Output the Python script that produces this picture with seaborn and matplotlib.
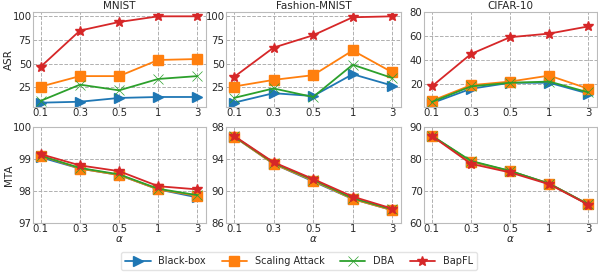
import numpy as np
import pandas as pd
import matplotlib
matplotlib.use("Agg")
import matplotlib.pyplot as plt
import seaborn as sns

alphas = ["0.1", "0.3", "0.5", "1", "3"]
datasets = ["MNIST", "Fashion-MNIST", "CIFAR-10"]
methods = ["Black-box", "Scaling Attack", "DBA", "BapFL"]

asr_mnist_blackbox = [9, 10, 14, 15, 15]
asr_mnist_scaling = [26, 37, 37, 54, 55]
asr_mnist_dba = [11, 28, 22, 34, 37]
asr_mnist_bapfl = [47, 85, 94, 100, 100]

asr_fmnist_blackbox = [9, 19, 16, 39, 27]
asr_fmnist_scaling = [26, 33, 38, 64, 41]
asr_fmnist_dba = [14, 24, 15, 49, 35]
asr_fmnist_bapfl = [36, 67, 80, 99, 100]

asr_cifar_blackbox = [4, 16, 21, 21, 12]
asr_cifar_scaling = [6, 19, 22, 27, 16]
asr_cifar_dba = [5, 18, 21, 22, 13]
asr_cifar_bapfl = [18, 45, 59, 62, 68]

mta_mnist_blackbox = [99.05, 98.7, 98.5, 98.05, 97.8]
mta_mnist_scaling = [99.1, 98.7, 98.5, 98.05, 97.85]
mta_mnist_dba = [99.1, 98.72, 98.52, 98.07, 97.87]
mta_mnist_bapfl = [99.15, 98.8, 98.62, 98.15, 98.05]

mta_fmnist_blackbox = [96.8, 93.4, 91.2, 89.0, 87.6]
mta_fmnist_scaling = [96.8, 93.4, 91.3, 89.0, 87.6]
mta_fmnist_dba = [96.85, 93.5, 91.4, 89.1, 87.7]
mta_fmnist_bapfl = [96.9, 93.6, 91.5, 89.3, 87.8]

mta_cifar_blackbox = [87.2, 79.2, 76.2, 72.3, 65.8]
mta_cifar_scaling = [87.2, 79.2, 76.2, 72.3, 65.8]
mta_cifar_dba = [87.3, 79.4, 76.3, 72.3, 65.8]
mta_cifar_bapfl = [87.2, 78.5, 75.8, 72.1, 65.7]

asr = {
    "MNIST": [asr_mnist_blackbox, asr_mnist_scaling, asr_mnist_dba, asr_mnist_bapfl],
    "Fashion-MNIST": [asr_fmnist_blackbox, asr_fmnist_scaling, asr_fmnist_dba, asr_fmnist_bapfl],
    "CIFAR-10": [asr_cifar_blackbox, asr_cifar_scaling, asr_cifar_dba, asr_cifar_bapfl],
}
mta = {
    "MNIST": [mta_mnist_blackbox, mta_mnist_scaling, mta_mnist_dba, mta_mnist_bapfl],
    "Fashion-MNIST": [mta_fmnist_blackbox, mta_fmnist_scaling, mta_fmnist_dba, mta_fmnist_bapfl],
    "CIFAR-10": [mta_cifar_blackbox, mta_cifar_scaling, mta_cifar_dba, mta_cifar_bapfl],
}

asr_ticks = {"MNIST": [25, 50, 75, 100], "Fashion-MNIST": [25, 50, 75, 100], "CIFAR-10": [20, 40, 60, 80]}
mta_ticks = {"MNIST": [97, 98, 99, 100], "Fashion-MNIST": [86, 90, 94, 98], "CIFAR-10": [60, 70, 80, 90]}

sns.set_style("whitegrid")
plt.rcParams["font.family"] = ["DejaVu Sans"]
plt.rcParams["font.size"] = 7.3

colors = ["#1f77b4", "#ff7f0e", "#2ca02c", "#d62728"]
markers = [">", "s", "x", "*"]
msizes = [6.5, 7, 7, 7.5]

fig = plt.figure(figsize=(5.98, 2.73), dpi=100)
W, H = 598, 273
cols = [(33, 206), (226, 401), (424, 597)]
rows = [(12, 107), (127, 223)]

def add_ax(l, r_, t, b):
    return fig.add_axes([l / W, 1 - b / H, (r_ - l) / W, (b - t) / H])

handles = []
for r, (data, ticks, ylabel) in enumerate([(asr, asr_ticks, "ASR"), (mta, mta_ticks, "MTA")]):
    t, b = rows[r]
    for c, ds in enumerate(datasets):
        ax = add_ax(cols[c][0], cols[c][1], t, b)
        rows_df = []
        for m, vals in zip(methods, data[ds]):
            for i, v in enumerate(vals):
                rows_df.append({"x": i, "y": v, "method": m})
        df = pd.DataFrame(rows_df)
        for k, m in enumerate(methods):
            sub = df[df["method"] == m]
            sns.lineplot(data=sub, x="x", y="y", ax=ax, color=colors[k], marker=markers[k],
                         markersize=msizes[k], markeredgecolor=colors[k],
                         markeredgewidth=1.0 if markers[k] != "x" else 0.5,
                         linewidth=1.3, label=m, legend=False)
        ax.set_xticks(range(len(alphas)))
        ax.set_xticklabels(alphas)
        ax.set_yticks(ticks[ds])
        if r == 1:
            ax.set_ylim(ticks[ds][0], ticks[ds][-1])
        ax.set_xlim(-0.2, 4.22)
        ax.grid(True, linestyle="--", color="#b0b0b0", linewidth=0.7)
        for s in ax.spines.values():
            s.set_color("#bbbbbb")
            s.set_linewidth(0.8)
        ax.tick_params(axis="both", labelsize=7.3, pad=1, length=0)
        ax.set_xlabel(r"$\alpha$" if r == 1 else "", fontsize=7.5, labelpad=0)
        ax.set_ylabel(ylabel if c == 0 else "", fontsize=7.5)
        if c == 0:
            ax.yaxis.set_label_coords(-0.108, 0.5)
        if r == 0:
            ax.set_title(ds, fontsize=7.5, pad=2)
        if r == 0 and c == 0:
            handles = ax.get_lines()[:4]

leg = fig.legend(handles, methods, loc="center", bbox_to_anchor=(0.5, 1 - 261 / H), ncol=4,
                 fontsize=7, frameon=True, handlelength=2.6, columnspacing=1.6, borderpad=0.4,
                 handletextpad=0.8)
leg.get_frame().set_edgecolor("#dddddd")

fig.savefig("out.png", dpi=100)
